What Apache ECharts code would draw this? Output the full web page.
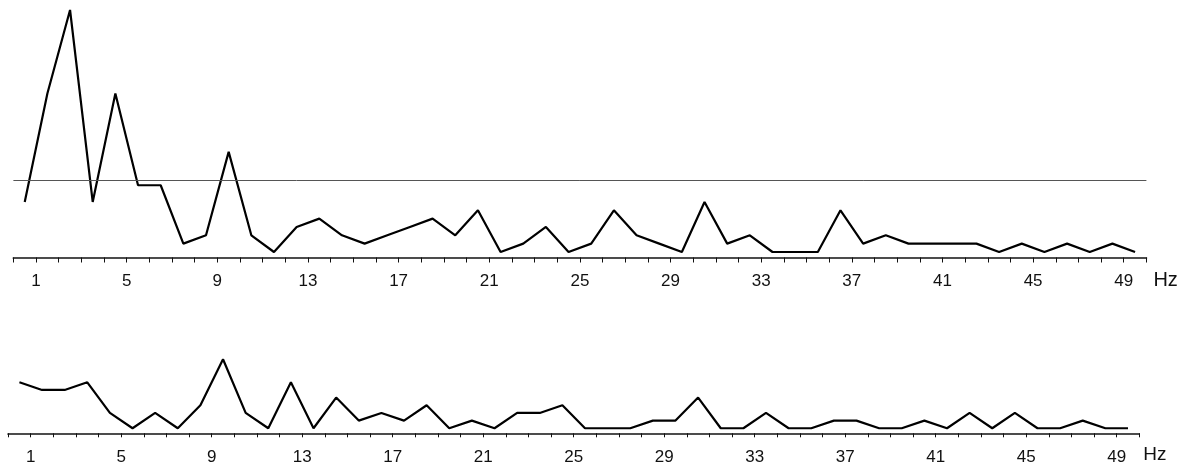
<!DOCTYPE html>
<html>
<head>
<meta charset="utf-8">
<style>
  html, body { margin: 0; padding: 0; background: #fff; }
  #chart { width: 1191px; height: 466px; }
</style>
<script src="https://cdn.jsdelivr.net/npm/echarts@6/dist/echarts.min.js"></script>
</head>
<body>
<div id="chart"></div>
<script>
// Spectrum amplitudes per 1 Hz bin (bin i spans i..i+1 Hz), in amplitude units
const upperAmp = [6, 19, 29, 6, 19, 8, 8, 1, 2, 12,
                  2, 0, 3, 4, 2, 1, 2, 3, 4, 2,
                  5, 0, 1, 3, 0, 1, 5, 2, 1, 0,
                  6, 1, 2, 0, 0, 0, 5, 1, 2, 1,
                  1, 1, 1, 0, 1, 0, 1, 0, 1, 0];
const lowerAmp = [6, 5, 5, 6, 2, 0, 2, 0, 3, 9,
                  2, 0, 6, 0, 4, 1, 2, 1, 3, 0,
                  1, 0, 2, 2, 3, 0, 0, 0, 1, 1,
                  4, 0, 0, 2, 0, 0, 1, 1, 0, 0,
                  1, 0, 2, 0, 2, 0, 0, 1, 0, 0];
// Reference level drawn across the upper spectrum
const upperThreshold = 8.6;
// Frequency labels along both axes
const tickLabels = [1, 5, 9, 13, 17, 21, 25, 29, 33, 37, 41, 45, 49];
const freqMax = 50;

const toBins = arr => arr.map((v, i) => [i + 0.5, v]);

const FONT = '"Liberation Sans", Arial, Helvetica, sans-serif';

function freqAxis(gridIndex, tickLen, labelMargin, nameGap, nameSize, nameLineHeight) {
  return {
    type: 'value',
    gridIndex: gridIndex,
    min: 0,
    max: freqMax,
    interval: 1,
    splitLine: { show: false },
    axisLine: { show: true, onZero: false, lineStyle: { color: '#111', width: 1.7 } },
    axisTick: { show: true, length: tickLen, lineStyle: { color: '#111', width: 1 } },
    axisLabel: {
      margin: labelMargin,
      color: '#111',
      fontSize: 17,
      fontFamily: FONT,
      formatter: v => {
        const r = Math.round(v);
        return Math.abs(v - r) < 1e-6 && tickLabels.includes(r) ? String(r) : '';
      }
    },
    name: 'Hz',
    nameLocation: 'end',
    nameGap: nameGap,
    nameTextStyle: {
      color: '#111',
      fontSize: nameSize,
      fontFamily: FONT,
      verticalAlign: 'top',
      lineHeight: nameLineHeight
    }
  };
}

function ampAxis(gridIndex, maxVal) {
  return {
    type: 'value',
    gridIndex: gridIndex,
    min: -0.66,
    max: maxVal,
    show: false,
    splitLine: { show: false }
  };
}

const chart = echarts.init(document.getElementById('chart'), null, { renderer: 'canvas' });

chart.setOption({
  animation: false,
  backgroundColor: '#fff',
  grid: [
    { left: 13.4, right: 44.6, top: 10, bottom: 208.5, outerBoundsMode: 'none', containLabel: false },
    { left: 8.1, right: 51.7, top: 359.3, bottom: 32.7, outerBoundsMode: 'none', containLabel: false }
  ],
  xAxis: [
    freqAxis(0, 5, 15, 7, 20, 45),
    freqAxis(1, 4, 16, 4, 19, 43.5)
  ],
  yAxis: [
    ampAxis(0, 29),
    ampAxis(1, 9)
  ],
  series: [
    {
      type: 'line',
      xAxisIndex: 0,
      yAxisIndex: 0,
      data: toBins(upperAmp),
      showSymbol: false,
      lineStyle: { color: '#000', width: 2.2 },
      markLine: {
        silent: true,
        symbol: 'none',
        label: { show: false },
        lineStyle: { color: '#555', width: 1, type: 'solid' },
        data: [{ yAxis: upperThreshold }]
      }
    },
    {
      type: 'line',
      xAxisIndex: 1,
      yAxisIndex: 1,
      data: toBins(lowerAmp),
      showSymbol: false,
      lineStyle: { color: '#000', width: 2.2 }
    }
  ]
});
</script>
</body>
</html>
